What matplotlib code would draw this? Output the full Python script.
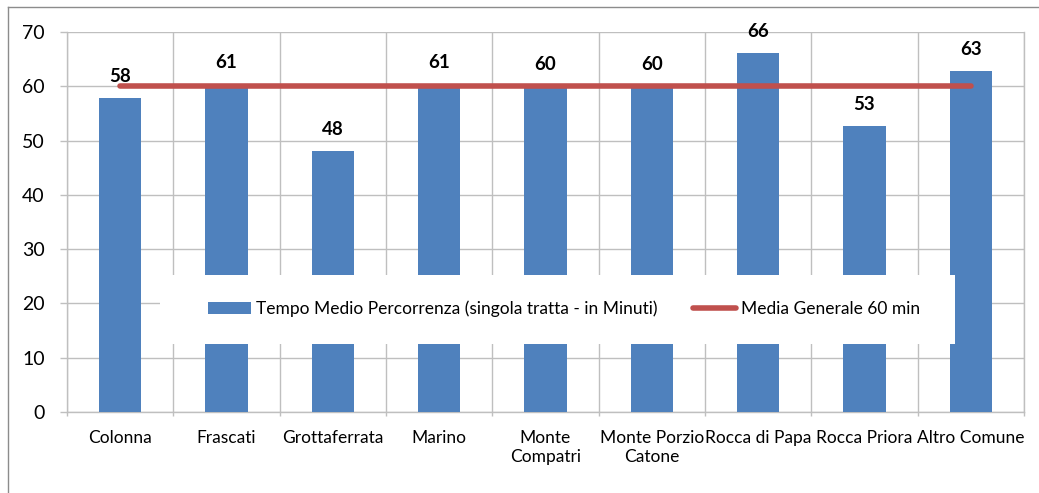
import matplotlib
matplotlib.use("Agg")
import matplotlib.pyplot as plt
from matplotlib.patches import Rectangle, Patch
from matplotlib.lines import Line2D
import numpy as np
import math

plt.rcParams['font.family'] = ['Lato', 'DejaVu Sans']

categories = ["Colonna", "Frascati", "Grottaferrata", "Marino", "Monte\nCompatri",
              "Monte Porzio\nCatone", "Rocca di Papa", "Rocca Priora", "Altro Comune"]
tempo_medio = [57.8, 60.5, 48.1, 60.5, 60.0, 60.0, 66.1, 52.6, 62.9]
media_generale = [60] * len(categories)
yticks = [0, 10, 20, 30, 40, 50, 60, 70]
legend_labels = ["Tempo Medio Percorrenza (singola tratta - in Minuti)", "Media Generale 60 min"]

W, H = 1039, 493
fig = plt.figure(figsize=(W / 100, H / 100), dpi=100)
ax = fig.add_axes([67 / W, 1 - 412 / H, (1024 - 67) / W, (412 - 32) / H])

bar_color = "#4F81BD"
line_color = "#C0504D"
grid_color = "#BFBFBF"

x = np.arange(len(categories))
ax.bar(x, tempo_medio, width=0.40, color=bar_color, zorder=3)
ax.plot(x, media_generale, color=line_color, lw=4, solid_capstyle='round', zorder=4)

for xi, v in zip(x, tempo_medio):
    ax.annotate(str(math.floor(v + 0.5)), (xi, v), xytext=(0, 15.5), textcoords='offset points',
                ha='center', va='center', fontsize=13.5, fontweight='bold', zorder=5)

ax.set_xlim(-0.5, len(categories) - 0.5)
ax.set_ylim(0, 70)
ax.set_yticks(yticks)
ax.set_yticklabels([str(t) for t in yticks])
ax.set_xticks(x)
ax.set_xticklabels(categories)
ax.set_xticks(np.arange(-0.5, len(categories)), minor=True)

ax.tick_params(axis='y', length=5, width=1, color=grid_color, labelsize=14, pad=11)
ax.tick_params(axis='x', which='major', length=0, labelsize=12.5, pad=13)
ax.tick_params(axis='x', which='minor', length=3, width=1, color=grid_color)

ax.grid(axis='y', color=grid_color, lw=1, zorder=0)
ax.grid(axis='x', which='minor', color=grid_color, lw=1, zorder=0)
ax.grid(axis='x', which='major', visible=False)
ax.set_axisbelow(True)
ax.spines['top'].set_visible(False)
for s in ['left', 'bottom', 'right']:
    ax.spines[s].set_color(grid_color)
    ax.spines[s].set_linewidth(1)

# outer chart border
fig.add_artist(Line2D([8 / W, 8 / W], [1 - 7 / H, 0], color="#8C8C8C", lw=1, transform=fig.transFigure))
fig.add_artist(Line2D([8 / W, 1], [1 - 7 / H, 1 - 7 / H], color="#8C8C8C", lw=1, transform=fig.transFigure))

# legend background box
fig.add_artist(Rectangle((160 / W, 1 - 344 / H), (955 - 160) / W, (344 - 275) / H,
                         transform=fig.transFigure, facecolor='white', edgecolor='none', zorder=5))

handles = [Patch(facecolor=bar_color, edgecolor='none'),
           Line2D([0], [0], color=line_color, lw=4, solid_capstyle='round')]
leg = fig.legend(handles, legend_labels, loc='center', bbox_to_anchor=(564 / W, 1 - 309 / H),
                 ncol=2, frameon=False, fontsize=12.5, handlelength=2.5, handletextpad=0.3,
                 columnspacing=2.0, handleheight=0.7)
leg.set_zorder(6)

fig.savefig("out.png", dpi=100)
